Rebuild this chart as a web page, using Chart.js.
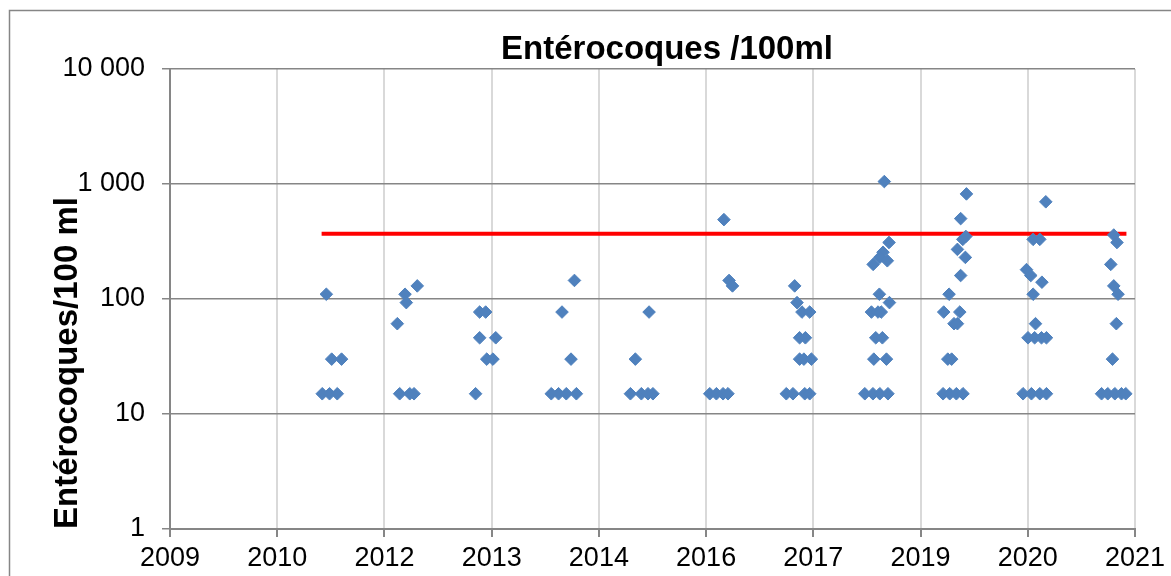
<!DOCTYPE html>
<html>
<head>
<meta charset="utf-8">
<script src="https://cdn.jsdelivr.net/npm/chart.js@4.4.0/dist/chart.umd.min.js"></script>
<style>
    html, body { margin: 0; padding: 0; background: #fff; }
    #wrap { width: 1171px; height: 576px; position: relative; }
</style>
</head>
<body>
<div id="wrap"><canvas id="chart"></canvas></div>
<script>
// Entérocoques /100ml - résultats par prélèvement
// x = jours depuis l'origine de l'axe (axe date Excel, pas de 500 jours)

const xTickLabels = ['2009', '2010', '2012', '2013', '2014', '2016', '2017', '2019', '2020', '2021'];
const X_STEP_DAYS = 500;

const yTickValues = [1, 10, 100, 1000, 10000];
const yTickLabels = ['1', '10', '100', '1 000', '10 000'];

const chartTitle = 'Entérocoques /100ml';
const yAxisTitle = 'Entérocoques/100 ml';

// sampling days
const sampleDays = [
    // 2010
    710, 744, 780, 729, 754, 800,
    // 2011-2012
    1153, 1096, 1102, 1060, 1071, 1118, 1138,
    // 2013 (printemps)
    1425, 1444, 1472, 1444, 1519, 1477, 1506,
    // 2013 (automne)
    1886, 1828, 1870, 1778, 1812, 1848, 1895,
    // 2014
    2170, 2234, 2147, 2198, 2229, 2252,
    // 2016
    2583, 2607, 2623, 2517, 2548, 2579, 2602,
    // 2016-2017
    2913, 2924, 2947, 2983, 2936, 2963, 2936, 2956, 2991, 2874, 2905, 2960, 2983,
    // 2018
    3331, 3353, 3325, 3310, 3345, 3279, 3308, 3355, 3271, 3302, 3317, 3291, 3322, 3282, 3341, 3240, 3278, 3310, 3348,
    // 2019
    3714, 3687, 3711, 3697, 3672, 3709, 3687, 3633, 3608, 3683, 3656, 3672, 3627, 3645, 3605, 3636, 3667, 3698,
    // 2020
    4084, 4025, 4056, 3994, 4014, 4066, 4025, 4036, 4001, 4032, 4064, 4087, 3978, 4017, 4056, 4087,
    // 2020-2021
    4401, 4416, 4387, 4401, 4421, 4413, 4395, 4344, 4373, 4406, 4437, 4457
];

// Entérocoques /100 ml
const enteroValues = [
    15, 15, 15, 110, 30, 30,
    130, 110, 93, 61, 15, 15, 15,
    15, 77, 77, 46, 46, 30, 30,
    145, 77, 30, 15, 15, 15, 15,
    30, 77, 15, 15, 15, 15,
    490, 145, 130, 15, 15, 15, 15,
    130, 93, 77, 77, 46, 46, 30, 30, 30, 15, 15, 15, 15,
    1050, 310, 255, 230, 215, 200, 110, 93, 77, 77, 77, 46, 46, 30, 30, 15, 15, 15, 15,
    820, 500, 350, 330, 270, 230, 160, 110, 77, 77, 61, 61, 30, 30, 15, 15, 15, 15,
    700, 330, 330, 180, 160, 140, 110, 61, 46, 46, 46, 46, 15, 15, 15, 15,
    360, 310, 200, 130, 110, 61, 30, 15, 15, 15, 15, 15
];

// seuil
const limitDays = [707, 4460];
const limitValue = 370;

const FONT = "'Liberation Sans', Arial, sans-serif";
const GRID_DARK = '#868686';
const GRID_LIGHT = '#d9d9d9';

// outer frame + title (title is offset to the right like in the excel export)
const framePlugin = {
    id: 'frame',
    beforeDraw(chart) {
        const ctx = chart.ctx;
        ctx.save();
        ctx.strokeStyle = GRID_DARK;
        ctx.lineWidth = 1.5;
        ctx.strokeRect(9.5, 10.5, 1300, 800);
        ctx.fillStyle = '#000';
        ctx.font = 'bold 33px ' + FONT;
        ctx.textAlign = 'center';
        ctx.textBaseline = 'middle';
        ctx.fillText(chartTitle, 667, 50);
        ctx.restore();
    }
};

const points = sampleDays.map((d, i) => ({ x: d, y: enteroValues[i] }));
const limitLine = limitDays.map(d => ({ x: d, y: limitValue }));

new Chart(document.getElementById('chart'), {
    type: 'scatter',
    data: {
        datasets: [{
            label: 'Entérocoques',
            data: points,
            pointStyle: 'rectRot',
            pointRadius: 6.3,
            backgroundColor: '#4F81BD',
            borderColor: '#4F81BD',
            borderWidth: 1
        }, {
            label: 'Seuil',
            data: limitLine,
            showLine: true,
            borderColor: '#FF0000',
            borderWidth: 4,
            pointRadius: 0
        }]
    },
    options: {
        responsive: true,
        maintainAspectRatio: false,
        animation: false,
        layout: {
            padding: { top: 69, right: 36, bottom: 0, left: 0 }
        },
        plugins: {
            legend: { display: false },
            tooltip: { enabled: false },
            title: { display: false }
        },
        scales: {
            x: {
                type: 'linear',
                min: 0,
                max: X_STEP_DAYS * (xTickLabels.length - 1),
                afterBuildTicks: scale => {
                    scale.ticks = xTickLabels.map((l, i) => ({ value: i * X_STEP_DAYS }));
                },
                afterFit: scale => { scale.height = 47; },
                ticks: {
                    autoSkip: false,
                    maxRotation: 0,
                    padding: 5,
                    color: '#000',
                    font: { family: FONT, size: 27 },
                    callback: (v, i) => xTickLabels[i]
                },
                grid: {
                    color: GRID_LIGHT,
                    lineWidth: 2,
                    tickColor: GRID_DARK,
                    tickLength: 8
                },
                border: { color: GRID_DARK, width: 2 }
            },
            y: {
                type: 'logarithmic',
                min: 1,
                max: 10000,
                afterBuildTicks: scale => {
                    scale.ticks = yTickValues.map(v => ({ value: v }));
                },
                afterFit: scale => { scale.width = 170; },
                ticks: {
                    autoSkip: false,
                    padding: 17,
                    color: '#000',
                    font: { family: FONT, size: 27 },
                    callback: (v, i) => yTickLabels[i]
                },
                grid: {
                    color: GRID_DARK,
                    lineWidth: 1.5,
                    tickColor: GRID_DARK,
                    tickLength: 8
                },
                border: { color: GRID_DARK, width: 2 },
                title: {
                    display: true,
                    text: yAxisTitle,
                    align: 'start',
                    color: '#000',
                    font: { family: FONT, size: 33, weight: 'bold' },
                    padding: { top: 48, bottom: 0 }
                }
            }
        }
    },
    plugins: [framePlugin]
});
</script>
</body>
</html>
